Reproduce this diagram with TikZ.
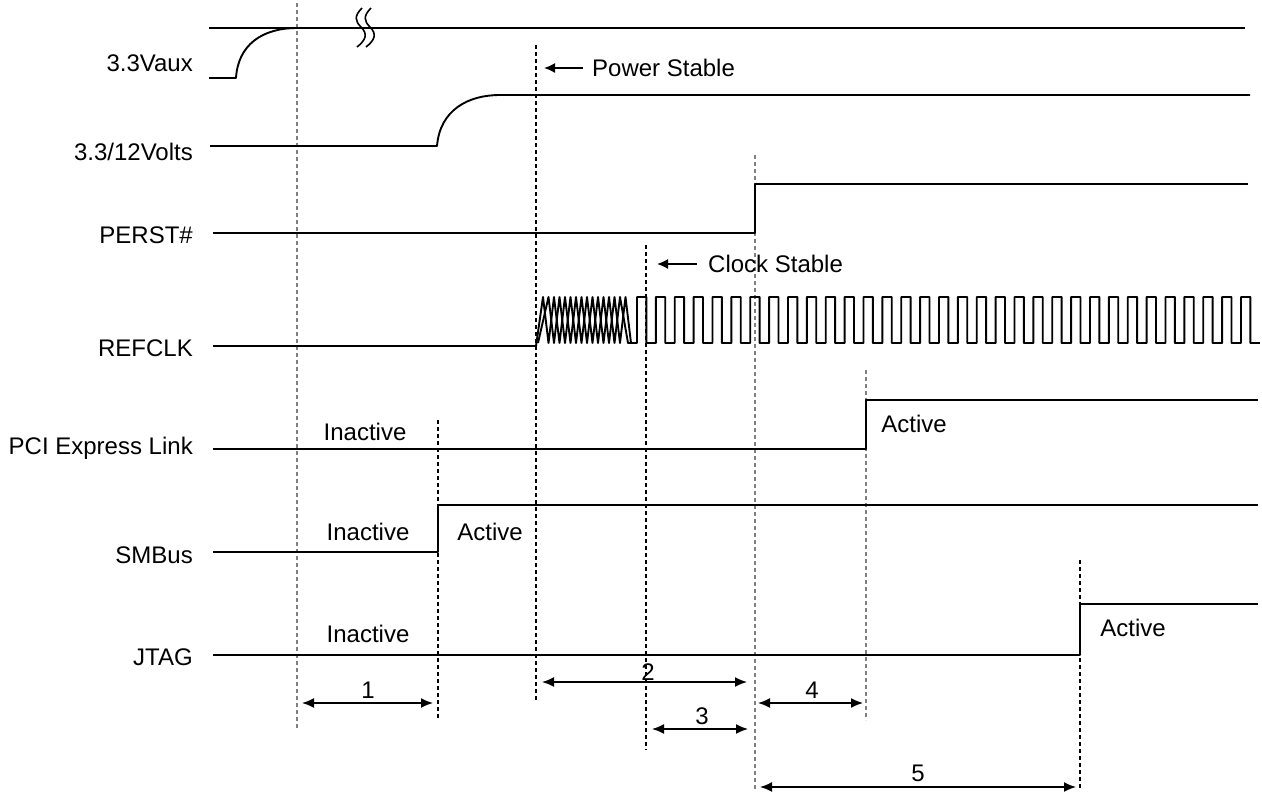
\documentclass[tikz,border=0pt]{standalone}
\usepackage{fontspec}
\setmainfont{Liberation Sans}
\usetikzlibrary{arrows.meta}
\begin{document}
\begin{tikzpicture}[x=1pt,y=-1pt,
  sig/.style={line width=1.9pt,line join=round},
  guide/.style={line width=1.3pt,dash pattern=on 4pt off 3pt},
  guideg/.style={guide,draw=gray},
  dim/.style={line width=1.6pt,{Latex[length=12pt,width=10pt]}-{Latex[length=12pt,width=10pt]}},
  note/.style={line width=1.6pt,-{Latex[length=11pt,width=10pt]}},
  lbl/.style={font=\fontsize{24}{28}\selectfont,inner sep=0pt},
  sname/.style={lbl,anchor=east}]
\useasboundingbox (0,0) rectangle (1262,798);
% signal names
\node[sname] (n1) at (193,63) {3.3Vaux};
\node[sname] (n2) at (193,152) {3.3/12Volts};
\node[sname] (n3) at (193,235) {PERST\#};
\node[sname] (n4) at (193,348) {REFCLK};
\node[sname] (n5) at (193,448) {PCI Express Link};
\node[sname] (n6) at (193,555) {SMBus};
\node[sname] (n7) at (193,657) {JTAG};
% guide lines
\draw[guideg] (297,3) -- (297,730);
\draw[guide] (536,45) -- (536,700);
\draw[guide] (438,420) -- (438,720);
\draw[guide] (646,245) -- (646,750);
\draw[guideg] (755,155) -- (755,790);
\draw[guideg] (866,370) -- (866,720);
\draw[guide] (1080,560) -- (1080,790);
% 3.3Vaux
\draw[sig] (209,78) -- (236,78) .. controls (238,45) and (262,28) .. (297,28);
\draw[sig] (209,28) -- (1245,28);
\draw[line width=1.6pt] (362,8) .. controls (354,16) and (355,21) .. (361,27) .. controls (368,34) and (366,40) .. (357,47);
\draw[line width=1.6pt] (371,8) .. controls (363,16) and (364,21) .. (370,27) .. controls (377,34) and (375,40) .. (366,47);
% 3.3/12V
\draw[sig] (210,146) -- (437,146) .. controls (440,110) and (468,95) .. (500,95) -- (1250,95);
% PERST#
\draw[sig] (213,233) -- (755,233) -- (755,184) -- (1248,184);
% REFCLK
\draw[sig] (213,346) -- (536,346) -- (543,297)
  foreach \k in {0,...,6} { -- ++(5.5,46) -- ++(5.5,-46) } -- (628,343) -- (637,343)
  foreach \k in {0,...,32} { -- ++(0,-46) -- ++(9.4,0) -- ++(0,46) -- ++(9.475,0) };
\draw[sig] (538,343) -- (548.5,297)
  foreach \k in {0,...,6} { -- ++(5.5,46) -- ++(5.5,-46) } -- (631,343);
% PCI Express Link
\draw[sig] (213,449) -- (866,449) -- (866,400) -- (1258,400);
\node[lbl] (t1) at (365,432) {Inactive};
\node[lbl] (t2) at (914,424) {Active};
% SMBus
\draw[sig] (213,552) -- (438,552) -- (438,505) -- (1258,505);
\node[lbl] (t3) at (368,532) {Inactive};
\node[lbl] (t4) at (490,532) {Active};
% JTAG
\draw[sig] (213,655) -- (1080,655) -- (1080,604) -- (1258,604);
\node[lbl] (t5) at (368,634) {Inactive};
\node[lbl] (t6) at (1133,628) {Active};
% notes
\coordinate (ps1) at (583,68);
\coordinate (ps2) at (544,68);
\draw[note] (ps1) -- (ps2);
\node[lbl,anchor=west] (ps) at (592,68) {Power Stable};
\coordinate (cs1) at (697,264);
\coordinate (cs2) at (657,264);
\draw[note] (cs1) -- (cs2);
\node[lbl,anchor=west] (cs) at (708,264) {Clock Stable};
% dimensions
\coordinate (d1a) at (302,703); \coordinate (d1b) at (433,703);
\draw[dim] (d1a) -- (d1b);
\node[lbl] (l1) at (368,690) {1};
\coordinate (d2a) at (542,682); \coordinate (d2b) at (747,682);
\draw[dim] (d2a) -- (d2b);
\node[lbl] (l2) at (648,672) {2};
\coordinate (d3a) at (652,729); \coordinate (d3b) at (748,729);
\draw[dim] (d3a) -- (d3b);
\node[lbl] (l3) at (702,716) {3};
\coordinate (d4a) at (758,703); \coordinate (d4b) at (863,703);
\draw[dim] (d4a) -- (d4b);
\node[lbl] (l4) at (812,690) {4};
\coordinate (d5a) at (760,787); \coordinate (d5b) at (1076,787);
\draw[dim] (d5a) -- (d5b);
\node[lbl] (l5) at (918,773) {5};
\end{tikzpicture}
\end{document}
